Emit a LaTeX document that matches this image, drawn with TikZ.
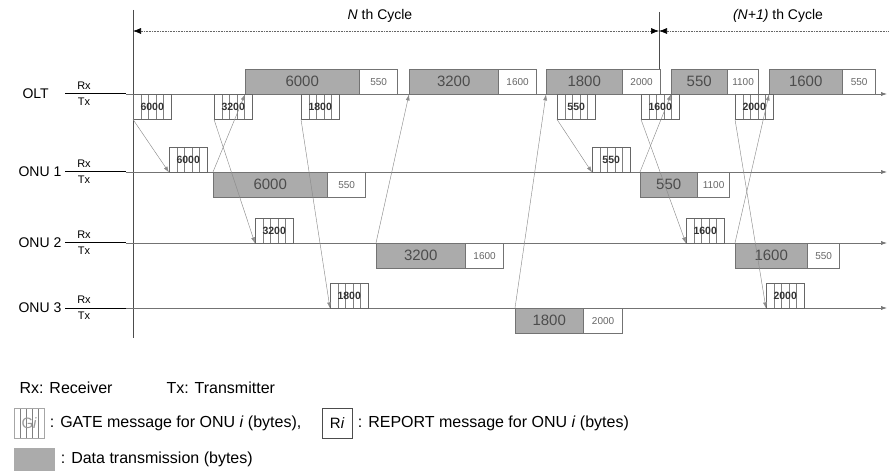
\documentclass[tikz,border=0pt]{standalone}
\usepackage{fontspec}
\setmainfont{Liberation Sans}
\usetikzlibrary{positioning,arrows.meta,calc}

\tikzset{
    databox/.style={draw=black!55, fill=black!33, anchor=north west,
        minimum height=25pt, inner sep=0pt, text=black!70,
        font=\fontsize{15}{15}\selectfont},
    repbox/.style={draw=black!55, fill=white, minimum width=38pt,
        minimum height=25pt, inner sep=0pt, text=black!60,
        font=\fontsize{10}{10}\selectfont},
    gatebox/.style={draw=black!60, fill=white, anchor=north west,
        minimum width=38pt, minimum height=25pt, inner sep=0pt,
        text=black!80, font=\fontsize{10.5}{10.5}\selectfont\bfseries,
        path picture={
            \foreach \k in {1,2,3,4}
                \draw[black!50]
                    ($(path picture bounding box.south west)!\k/5!(path picture bounding box.south east)$)
                    -- ($(path picture bounding box.north west)!\k/5!(path picture bounding box.north east)$);
        }},
    tline/.style={draw=black!55, line width=0.6pt, -{Latex[length=6pt,width=4pt]}},
    msg/.style={draw=black!45, line width=0.45pt, -{Latex[length=6pt,width=4pt]}},
    cyc/.style={draw=black!60, densely dotted, line width=0.6pt},
    lab/.style={anchor=west, font=\fontsize{14}{14}\selectfont},
    rxtx/.style={font=\fontsize{11}{11}\selectfont},
    leg/.style={anchor=west, font=\fontsize{16}{16}\selectfont},
}

\begin{document}
\begin{tikzpicture}[x=1pt, y=-1pt]
    \useasboundingbox (0,0) rectangle (889,473);

    % cycle marks
    \draw[black!70] (133,10) -- (133,338);
    \draw[black!70] (659,12) -- (659,94);
    \draw[cyc, {Latex[length=8pt,width=6pt,black]}-{Latex[length=8pt,width=6pt,black]}]
        (133,31) -- (659,31);
    \draw[cyc, {Latex[length=8pt,width=6pt,black]}-] (659,31) -- (889,31);
    \node[font=\fontsize{14}{14}\selectfont] (cyc-n) at (380,16) {\textit{N} th Cycle};
    \node[font=\fontsize{14}{14}\selectfont] (cyc-n1) at (778,16) {\textit{(N+1)} th Cycle};

    % time lines
    \node[lab] (olt) at (19,94) {OLT};
    \node[lab] (onu1) at (15,172) {ONU 1};
    \node[lab] (onu2) at (15,243) {ONU 2};
    \node[lab] (onu3) at (15,308) {ONU 3};
    \draw[line width=1pt] (65,94) -- (126,94);
    \draw[line width=1pt] (65,172) -- (126,172);
    \draw[line width=1pt] (65,243) -- (126,243);
    \draw[line width=1pt] (65,308) -- (126,308);
    \draw[tline] (126,94) -- (887,94);
    \draw[tline] (126,172) -- (887,172);
    \draw[tline] (126,243) -- (887,243);
    \draw[tline] (126,308) -- (887,308);
    \node[rxtx] (olt-rx) at (84,86) {Rx};
    \node[rxtx] (olt-tx) at (84,102) {Tx};
    \node[rxtx] (onu1-rx) at (84,164) {Rx};
    \node[rxtx] (onu1-tx) at (84,180) {Tx};
    \node[rxtx] (onu2-rx) at (84,235) {Rx};
    \node[rxtx] (onu2-tx) at (84,251) {Tx};
    \node[rxtx] (onu3-rx) at (84,300) {Rx};
    \node[rxtx] (onu3-tx) at (84,316) {Tx};

    % OLT
    \node[databox, minimum width=114pt] (olt-d1) at (245,69) {6000};
    \node[repbox, right=0pt of olt-d1] (olt-r1) {550};
    \node[databox, minimum width=89pt] (olt-d2) at (409,69) {3200};
    \node[repbox, right=0pt of olt-d2] (olt-r2) {1600};
    \node[databox, minimum width=76pt] (olt-d3) at (546,69) {1800};
    \node[repbox, right=0pt of olt-d3] (olt-r3) {2000};
    \node[databox, minimum width=56pt] (olt-d4) at (671,69) {550};
    \node[repbox, minimum width=31pt, right=0pt of olt-d4] (olt-r4) {1100};
    \node[databox, minimum width=73pt] (olt-d5) at (769,69) {1600};
    \node[repbox, minimum width=33pt, right=0pt of olt-d5] (olt-r5) {550};

    \node[gatebox] (olt-g1) at (133,94) {6000};
    \node[gatebox] (olt-g2) at (214,94) {3200};
    \node[gatebox] (olt-g3) at (301,94) {1800};
    \node[gatebox] (olt-g4) at (557,94) {550};
    \node[gatebox] (olt-g5) at (641,94) {1600};
    \node[gatebox] (olt-g6) at (735,94) {2000};

    % ONU 1
    \node[gatebox] (onu1-g1) at (169,147) {6000};
    \node[databox, minimum width=114pt] (onu1-d1) at (213,172) {6000};
    \node[repbox, right=0pt of onu1-d1] (onu1-r1) {550};
    \node[gatebox] (onu1-g2) at (592,147) {550};
    \node[databox, minimum width=57pt] (onu1-d2) at (640,172) {550};
    \node[repbox, minimum width=32pt, right=0pt of onu1-d2] (onu1-r2) {1100};

    % ONU 2
    \node[gatebox] (onu2-g1) at (255,218) {3200};
    \node[databox, minimum width=89pt] (onu2-d1) at (376,243) {3200};
    \node[repbox, right=0pt of onu2-d1] (onu2-r1) {1600};
    \node[gatebox] (onu2-g2) at (686,218) {1600};
    \node[databox, minimum width=72pt] (onu2-d2) at (735,243) {1600};
    \node[repbox, minimum width=32pt, right=0pt of onu2-d2] (onu2-r2) {550};

    % ONU 3
    \node[gatebox] (onu3-g1) at (330,283) {1800};
    \node[databox, minimum width=68pt] (onu3-d1) at (515,308) {1800};
    \node[repbox, minimum width=39pt, right=0pt of onu3-d1] (onu3-r1) {2000};
    \node[gatebox] (onu3-g2) at (766,283) {2000};

    % GATE messages
    \draw[msg] (olt-g1.south west) -- (onu1-g1.south west);
    \draw[msg] (olt-g2.south west) -- (onu2-g1.south west);
    \draw[msg] (olt-g3.south west) -- (onu3-g1.south west);
    \draw[msg] (olt-g4.south west) -- (onu1-g2.south west);
    \draw[msg] (olt-g5.south west) -- (onu2-g2.south west);
    \draw[msg] (olt-g6.south west) -- (onu3-g2.south west);
    % upstream data
    \draw[msg] (onu1-d1.north west) -- (olt-d1.south west);
    \draw[msg] (onu2-d1.north west) -- (olt-d2.south west);
    \draw[msg] (onu3-d1.north west) -- (olt-d3.south west);
    \draw[msg] (onu1-d2.north west) -- (olt-d4.south west);
    \draw[msg] (onu2-d2.north west) -- (olt-d5.south west);

    % legend
    \node[leg] (leg-rx) at (16,388) {Rx: Receiver};
    \node[leg] (leg-tx) at (163,388) {Tx: Transmitter};
    \node[gatebox, draw=black!35, minimum width=30pt, minimum height=30pt,
        text=black!40, font=\fontsize{15}{15}\selectfont] (leg-g) at (14,408) {G\textit{i}};
    \node[leg, right=2pt of leg-g] (leg-gt)
        {: GATE message for ONU \textit{i} (bytes),};
    \node[repbox, anchor=north west, minimum width=30pt, minimum height=30pt,
        draw=black!70, text=black, font=\fontsize{15}{15}\selectfont] (leg-r) at (322,408) {R\textit{i}};
    \node[leg, right=2pt of leg-r] (leg-rt)
        {: REPORT message for ONU \textit{i} (bytes)};
    \node[databox, draw=none, minimum width=41pt, minimum height=23pt] (leg-d) at (14,448) {};
    \node[leg, right=2pt of leg-d] (leg-dt) {: Data transmission (bytes)};
\end{tikzpicture}
\end{document}
